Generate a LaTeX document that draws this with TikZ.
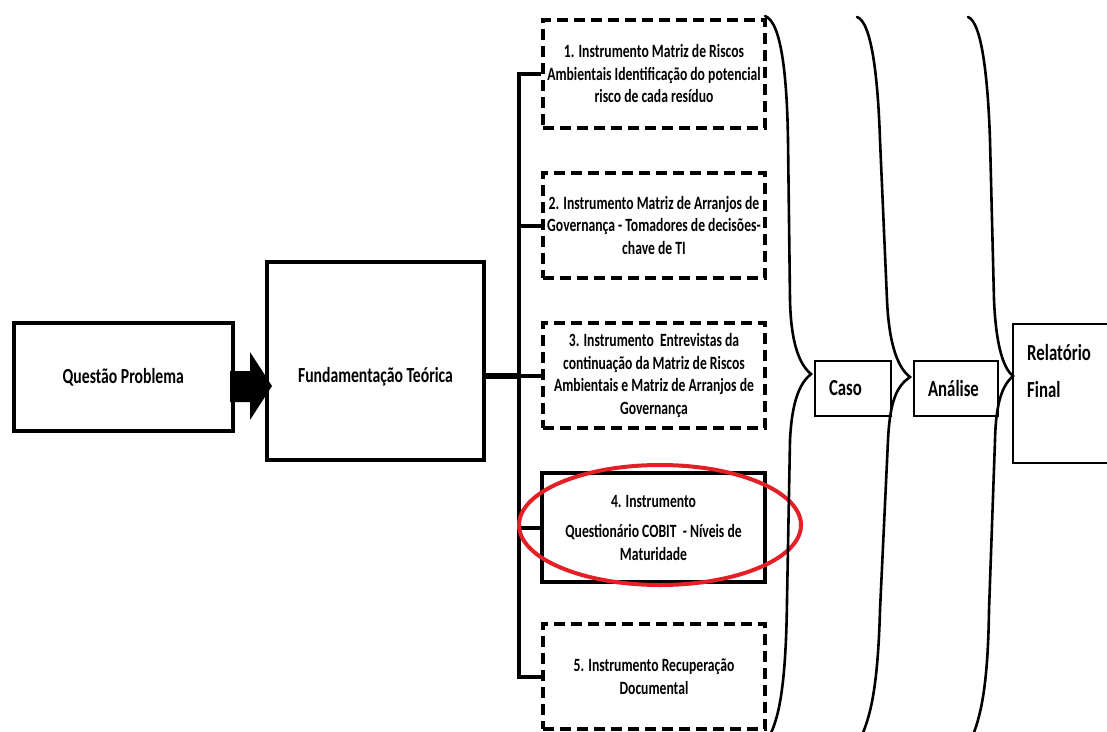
\documentclass[tikz,border=0pt]{standalone}
\usepackage{fontspec}
\setmainfont{Carlito}[FakeStretch=0.73]
\usetikzlibrary{calc}
\definecolor{markred}{RGB}{226,32,38}
\begin{document}
\begin{tikzpicture}[x=1pt,y=-1pt,
  mainbox/.style={draw, line width=4pt, inner sep=0pt, align=center,
    font=\fontsize{21.5}{26}\selectfont\bfseries},
  maintext/.style={inner sep=0pt, font=\fontsize{21.5}{26}\selectfont\bfseries},
  instbox/.style={draw, line width=4pt, inner sep=0pt, minimum width=222pt,
    align=center, font=\fontsize{18.7}{22.5}\selectfont\bfseries},
  dashbox/.style={instbox, dash pattern=on 11pt off 6pt},
  stagebox/.style={draw, line width=1.3pt, inner xsep=14pt, inner ysep=0pt,
    minimum height=55pt, align=left, font=\fontsize{23}{37}\selectfont\bfseries},
  link/.style={line width=4pt},
  bracket/.style={line width=2.6pt, line cap=round}
]
\clip (0,0) rectangle (1107,731);
\fill[white] (0,0) rectangle (1107,731);

% problem statement and theoretical basis
\node[mainbox, minimum width=219.5pt, minimum height=108pt] (Q) at (123.25,377) {Questão Problema};
\node[mainbox, minimum width=217pt, minimum height=198pt] (F) at (375.5,361) {};
\node[maintext] (Ft) at ($(F.center)+(0,16)$) {Fundamentação Teórica};
\fill[shift={(Q.east)}] (-5,-6) -- (15,-6) -- (15,-25) -- (37,9) -- (15,43) -- (15,25) -- (-5,25) -- cycle;

% the five instruments
\node[dashbox, minimum height=108pt] (B1) at (654,74)
  {1. Instrumento Matriz de Riscos\\Ambientais Identificação do potencial\\risco de cada resíduo};
\node[dashbox, minimum height=105pt] (B2) at (654,225.5)
  {2. Instrumento Matriz de Arranjos de\\Governança - Tomadores de decisões-\\chave de TI};
\node[dashbox, minimum height=105pt] (B3) at (654,375.5)
  {3. Instrumento\ \ Entrevistas da\\continuação da Matriz de Riscos\\Ambientais e Matriz de Arranjos de\\Governança};
\node[instbox, minimum width=223pt, minimum height=109pt] (B4) at (653.5,527.5)
  {4. Instrumento\\[8pt]Questionário COBIT\ \ - Níveis de\\Maturidade};
\node[dashbox, minimum height=105pt] (B5) at (654,676.5)
  {5. Instrumento Recuperação\\Documental};

% distribution bus
\coordinate (bus) at ($(B1.west)+(-22,0)$);
\draw[link] (B1.west) -- (bus) |- (B5.west);
\draw[link] (B2.west) -- (B2.west -| bus);
\draw[link] (B3.west) -- (B3.west -| bus);
\draw[link] (B4.west) -- (B4.west -| bus);
\draw[line width=6pt] (F.east |- B3.west) -- (B3.west -| bus);

% highlight around instrument 4
\draw[markred, line width=4pt] ($(B4.center)+(6.5,-2.5)$) ellipse [x radius=141, y radius=60];

% stages
\node[stagebox, text width=48pt] (C) at (853,388.5) {Caso};
\node[stagebox, text width=56pt] (A) at (956,388.5) {Análise};
\node[draw, line width=1.3pt, minimum width=120pt, minimum height=139pt] (R) at (1073,393.5) {};
\node[anchor=north west, inner sep=0pt, align=left,
  font=\fontsize{23}{37}\selectfont\bfseries] (Rt) at (1027,344) {Relatório\\Final};

% braces
\draw[bracket] (765,16) .. controls (782,22) and (787,80) .. (788,140) -- (790,300)
  .. controls (791,345) and (800,365) .. (811,374)
  .. controls (800,383) and (792,400) .. (790,440) -- (787,600)
  .. controls (786,680) and (780,715) .. (770,735);
\draw[bracket] (857,17) .. controls (872,22) and (878,80) .. (880,140) -- (887,300)
  .. controls (889,345) and (898,368) .. (910,377)
  .. controls (897,386) and (890,400) .. (888,440) -- (880,610)
  .. controls (878,680) and (872,712) .. (862,735);
\draw[bracket] (968,17) .. controls (982,22) and (988,80) .. (990,140) -- (994,300)
  .. controls (996,345) and (1003,368) .. (1013,376)
  .. controls (1003,385) and (996,400) .. (995,440) -- (989,610)
  .. controls (988,680) and (982,712) .. (973,735);
\end{tikzpicture}
\end{document}
